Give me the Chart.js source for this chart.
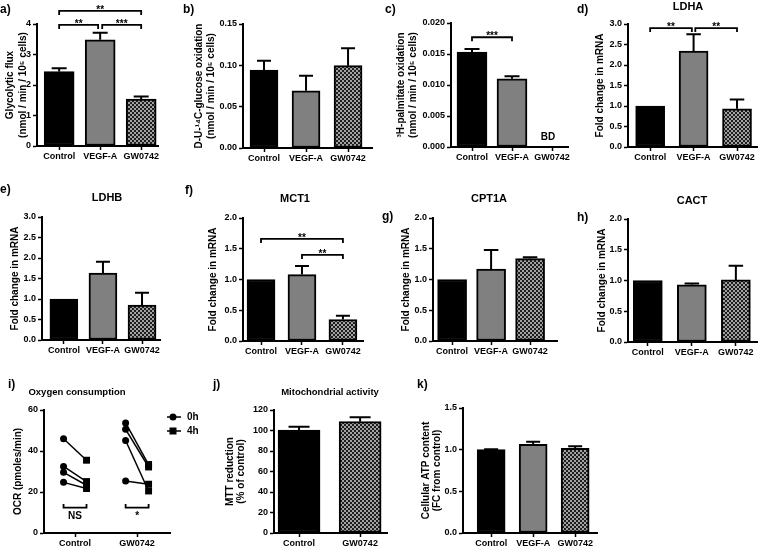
<!DOCTYPE html>
<html>
<head>
<meta charset="utf-8">
<script src="https://cdn.jsdelivr.net/npm/chart.js@4.4.1/dist/chart.umd.min.js"></script>
<style>
  html, body { margin: 0; padding: 0; background: #fff; }
  #page { position: relative; width: 758px; height: 548px; overflow: hidden; background: #fff; }
  #page canvas { position: absolute; }
</style>
</head>
<body>
<div id="page"></div>
<script>
const groups3 = ['Control', 'VEGF-A', 'GW0742'];
const groups2 = ['Control', 'GW0742'];

// a) glycolytic flux
const glycoFlux = [2.44, 3.48, 1.54];
const glycoFluxErr = [0.11, 0.23, 0.08];
// b) glucose oxidation
const glucoseOx = [0.0944, 0.0693, 0.0996];
const glucoseOxErr = [0.0112, 0.0182, 0.021];
// c) palmitate oxidation (GW0742 below detection)
const palmitateOx = [0.0153, 0.0110, null];
const palmitateOxErr = [0.0005, 0.0004, null];
const palmitateNotes = ['', '', 'BD'];
// d-h) mRNA fold change
const ldha = [1.0, 2.34, 0.93];
const ldhaErr = [0, 0.41, 0.23];
const ldhb = [1.0, 1.63, 0.85];
const ldhbErr = [0, 0.28, 0.30];
const mct1 = [1.0, 1.08, 0.35];
const mct1Err = [0, 0.14, 0.06];
const cpt1a = [1.0, 1.17, 1.34];
const cpt1aErr = [0, 0.31, 0.02];
const cact = [1.0, 0.93, 1.01];
const cactErr = [0, 0.02, 0.23];
// i) oxygen consumption, paired 0h -> 4h
const ocrControl0h = [46.0, 32.5, 29.6, 24.7];
const ocrControl4h = [35.5, 25.1, 23.3, 21.7];
const ocrGW0h = [53.7, 50.6, 45.1, 25.4];
const ocrGW4h = [33.4, 32.2, 20.5, 23.8];
const ocrTimes = ['0h', '4h'];
const timeShift = 0.185;
// j) MTT
const mtt = [100.5, 108.6];
const mttErr = [3.2, 4.3];
// k) ATP
const atp = [1.0, 1.065, 1.015];
const atpErr = [0.005, 0.03, 0.025];

const page = document.getElementById('page');
const FONT = "'Liberation Sans', Arial, Helvetica, sans-serif";
Chart.defaults.font.family = FONT;
Chart.defaults.font.weight = 'bold';
Chart.defaults.color = '#000';

function checker() {
  const c = document.createElement('canvas');
  c.width = 4; c.height = 4;
  const g = c.getContext('2d');
  g.fillStyle = '#a2a2a2'; g.fillRect(0, 0, 4, 4);
  g.fillStyle = '#1e1e1e'; g.fillRect(0, 0, 2, 2); g.fillRect(2, 2, 2, 2);
  return g.createPattern(c, 'repeat');
}
const fills = { 'Control': '#000000', 'VEGF-A': '#808080', 'GW0742': checker() };

const panelOf = new Map();

// error bars, brackets, notes, legend and panel text
const decorations = {
  id: 'decorations',
  afterDraw(chart) {
    const p = panelOf.get(chart.canvas);
    if (!p) return;
    const { ctx } = chart;
    const x = chart.scales.x, y = chart.scales.y;
    ctx.save();
    ctx.fillStyle = '#000';
    ctx.strokeStyle = '#000';

    chart.data.datasets.forEach((ds, di) => {
      if (!ds.errors) return;
      chart.getDatasetMeta(di).data.forEach((bar, i) => {
        const v = p.values[i], e = ds.errors[i];
        if (v == null || !e) return;
        const top = y.getPixelForValue(v + e);
        const half = bar.width / 4;
        ctx.lineWidth = 2;
        ctx.beginPath();
        ctx.moveTo(bar.x, bar.y);
        ctx.lineTo(bar.x, top);
        ctx.moveTo(bar.x - half, top);
        ctx.lineTo(bar.x + half, top);
        ctx.stroke();
      });
      if (ds.notes) {
        ctx.font = 'bold 10px ' + FONT;
        ctx.textAlign = 'center';
        ctx.textBaseline = 'middle';
        ds.notes.forEach((n, i) => {
          if (n) ctx.fillText(n, x.getPixelForValue(i) - 4, chart.chartArea.bottom - 10);
        });
      }
    });

    (p.brackets || []).forEach(b => {
      const x1 = x.getPixelForValue(b.from), x2 = x.getPixelForValue(b.to);
      const yy = y.getPixelForValue(b.at);
      const leg = b.up ? -3.5 : 4;
      ctx.lineWidth = 1.8;
      ctx.beginPath();
      ctx.moveTo(x1, yy + leg);
      ctx.lineTo(x1, yy);
      ctx.lineTo(x2, yy);
      ctx.lineTo(x2, yy + leg);
      ctx.stroke();
      ctx.font = 'bold 10px ' + FONT;
      ctx.textAlign = 'center';
      if (b.up) {
        ctx.textBaseline = 'top';
        ctx.fillText(b.text, (x1 + x2) / 2, yy + 4);
      } else {
        ctx.textBaseline = 'alphabetic';
        ctx.fillText(b.text, (x1 + x2) / 2, yy + 2);
      }
    });

    if (p.legend) {
      const lg = p.legend;
      lg.labels.forEach((label, i) => {
        const ly = lg.y + i * lg.gap - p.box.y;
        const lx = lg.x - p.box.x;
        ctx.lineWidth = 1.5;
        ctx.beginPath();
        ctx.moveTo(lx, ly);
        ctx.lineTo(lx + 14, ly);
        ctx.stroke();
        if (lg.markers[i] === 'circle') {
          ctx.beginPath();
          ctx.arc(lx + 6, ly, 3.5, 0, Math.PI * 2);
          ctx.fill();
        } else {
          ctx.fillRect(lx + 6 - 3.5, ly - 3.5, 7, 7);
        }
        ctx.font = 'bold 10px ' + FONT;
        ctx.textAlign = 'left';
        ctx.textBaseline = 'middle';
        ctx.fillText(label, lx + 20, ly);
      });
    }

    (p.texts || []).forEach(t => {
      ctx.font = 'bold ' + t.size + 'px ' + FONT;
      ctx.textAlign = t.align || 'left';
      ctx.textBaseline = 'middle';
      ctx.fillText(t.text, t.x - p.box.x, t.y - p.box.y);
    });
    ctx.restore();
  }
};
Chart.register(decorations);

function makeCanvas(box) {
  const c = document.createElement('canvas');
  c.width = box.w; c.height = box.h;
  c.style.left = box.x + 'px'; c.style.top = box.y + 'px';
  c.style.width = box.w + 'px'; c.style.height = box.h + 'px';
  page.appendChild(c);
  return c;
}

function yAxis(p) {
  const size = 10;
  const lh = (p.titleGap || 12) / size;
  return {
    type: 'linear', min: 0, max: p.yMax,
    afterFit: s => { s.width = p.L - p.box.x; },
    ticks: {
      stepSize: p.step, padding: 2, color: '#000',
      font: { size: 9, weight: 'bold' },
      callback: v => Number(v).toFixed(p.dec)
    },
    grid: { drawOnChartArea: false, drawTicks: true, tickLength: 4, tickColor: '#000', tickWidth: 1.5 },
    border: { display: true, color: '#000', width: 2 },
    title: {
      display: true, text: p.yTitle, color: '#000',
      font: { size: size, weight: 'bold', lineHeight: lh },
      padding: { top: p.titleX - p.box.x - size * lh / 2, bottom: 0 }
    }
  };
}

function xAxis(p) {
  return {
    type: 'linear', min: p.xMin, max: p.xMax, offset: false,
    afterBuildTicks: s => { s.ticks = p.labels.map((_, i) => ({ value: i })); },
    afterFit: s => { s.height = p.box.y + p.box.h - p.B; },
    ticks: {
      autoSkip: false, maxRotation: 0, padding: 1, color: '#000',
      font: { size: 9, weight: 'bold' },
      callback: v => p.labels[v]
    },
    grid: { offset: false, drawOnChartArea: false, drawTicks: true, tickLength: 4, tickColor: '#000', tickWidth: 1.5 },
    border: { display: true, color: '#000', width: 2 }
  };
}

function baseOptions(p) {
  return {
    responsive: false, animation: false, devicePixelRatio: 1,
    layout: { padding: { top: p.T - p.box.y, right: p.box.x + p.box.w - p.R, left: 0, bottom: 0 } },
    scales: { x: xAxis(p), y: yAxis(p) },
    plugins: { legend: { display: false }, title: { display: false }, tooltip: { enabled: false } }
  };
}

function barPanel(p) {
  const canvas = makeCanvas(p.box);
  panelOf.set(canvas, p);
  return new Chart(canvas, {
    type: 'bar',
    data: {
      datasets: [{
        data: p.labels.map((_, i) => ({ x: i, y: p.values[i] })),
        errors: p.errors,
        notes: p.notes,
        backgroundColor: p.labels.map(l => fills[l]),
        borderColor: '#000', borderWidth: 2, borderSkipped: false,
        barThickness: p.barWidth
      }]
    },
    options: baseOptions(p)
  });
}

function ocrPanel(p) {
  const canvas = makeCanvas(p.box);
  panelOf.set(canvas, p);
  const datasets = [];
  [[ocrControl0h, ocrControl4h], [ocrGW0h, ocrGW4h]].forEach(([before, after], g) => {
    before.forEach((v, r) => datasets.push({
      data: [{ x: g - timeShift, y: v }, { x: g + timeShift, y: after[r] }],
      borderColor: '#000', borderWidth: 1.5, tension: 0, fill: false,
      pointStyle: ['circle', 'rect'], pointRadius: [3.5, 4.9],
      pointBackgroundColor: '#000', pointBorderColor: '#000', pointBorderWidth: 0
    }));
  });
  return new Chart(canvas, { type: 'line', data: { datasets }, options: baseOptions(p) });
}

const foldTitle = 'Fold change in mRNA';
const rateTitle = '(nmol / min / 10\u2075 cells)';

barPanel({
  box: { x: 0, y: 0, w: 172, h: 165 }, L: 37, T: 24, R: 158, B: 146,
  labels: groups3, values: glycoFlux, errors: glycoFluxErr,
  xMin: -0.54, xMax: 2.41, yMax: 4, step: 1, dec: 0, barWidth: 30,
  yTitle: ['Glycolytic flux', rateTitle], titleX: 10, titleGap: 13,
  brackets: [
    { from: 0, to: 0.95, at: 3.97, text: '**' },
    { from: 1.05, to: 2, at: 3.97, text: '***' },
    { from: 0, to: 2, at: 4.43, text: '**' }
  ],
  texts: [{ text: 'a)', x: 0, y: 10, size: 12 }]
});

barPanel({
  box: { x: 180, y: 0, w: 198, h: 165 }, L: 243, T: 24, R: 372, B: 148,
  labels: groups3, values: glucoseOx, errors: glucoseOxErr,
  xMin: -0.5, xMax: 2.57, yMax: 0.15, step: 0.05, dec: 2, barWidth: 28,
  yTitle: ['D-U-\u00b9\u2074C-glucose oxidation', rateTitle], titleX: 199, titleGap: 12,
  texts: [{ text: 'b)', x: 183, y: 10, size: 12 }]
});

barPanel({
  box: { x: 380, y: 0, w: 195, h: 165 }, L: 451, T: 23, R: 568, B: 147,
  labels: groups3, values: palmitateOx, errors: palmitateOxErr, notes: palmitateNotes,
  xMin: -0.525, xMax: 2.4, yMax: 0.02, step: 0.005, dec: 3, barWidth: 30,
  yTitle: ['\u00b3H-palmitate oxidation', rateTitle], titleX: 401, titleGap: 12,
  brackets: [{ from: 0, to: 1, at: 0.0177, text: '***' }],
  texts: [{ text: 'c)', x: 385, y: 10, size: 12 }]
});

barPanel({
  box: { x: 575, y: 0, w: 183, h: 165 }, L: 628, T: 24, R: 757, B: 147,
  labels: groups3, values: ldha, errors: ldhaErr,
  xMin: -0.51, xMax: 2.46, yMax: 3, step: 0.5, dec: 1, barWidth: 29,
  yTitle: foldTitle, titleX: 600,
  brackets: [
    { from: 0, to: 0.96, at: 2.9, text: '**' },
    { from: 1.04, to: 2, at: 2.9, text: '**' }
  ],
  texts: [{ text: 'd)', x: 577, y: 10, size: 12 }, { text: 'LDHA', x: 688, y: 7, size: 11, align: 'center' }]
});

barPanel({
  box: { x: 0, y: 180, w: 172, h: 180 }, L: 42, T: 217, R: 160, B: 340,
  labels: groups3, values: ldhb, errors: ldhbErr,
  xMin: -0.56, xMax: 2.46, yMax: 3, step: 0.5, dec: 1, barWidth: 28,
  yTitle: foldTitle, titleX: 15,
  texts: [{ text: 'e)', x: 0, y: 190, size: 12 }, { text: 'LDHB', x: 107, y: 198, size: 11, align: 'center' }]
});

barPanel({
  box: { x: 183, y: 180, w: 192, h: 180 }, L: 243, T: 218, R: 363, B: 341,
  labels: groups3, values: mct1, errors: mct1Err,
  xMin: -0.44, xMax: 2.49, yMax: 2, step: 0.5, dec: 1, barWidth: 28,
  yTitle: foldTitle, titleX: 213,
  brackets: [
    { from: 0, to: 2, at: 1.66, text: '**' },
    { from: 1, to: 2, at: 1.40, text: '**' }
  ],
  texts: [{ text: 'f)', x: 185, y: 191, size: 12 }, { text: 'MCT1', x: 295, y: 199, size: 11, align: 'center' }]
});

barPanel({
  box: { x: 378, y: 180, w: 192, h: 180 }, L: 433, T: 218, R: 557, B: 341,
  labels: groups3, values: cpt1a, errors: cpt1aErr,
  xMin: -0.49, xMax: 2.69, yMax: 2, step: 0.5, dec: 1, barWidth: 29,
  yTitle: foldTitle, titleX: 406,
  texts: [{ text: 'g)', x: 382, y: 217, size: 12 }, { text: 'CPT1A', x: 489, y: 199, size: 11, align: 'center' }]
});

barPanel({
  box: { x: 573, y: 180, w: 185, h: 180 }, L: 628, T: 219, R: 757, B: 342,
  labels: groups3, values: cact, errors: cactErr,
  xMin: -0.45, xMax: 2.48, yMax: 2, step: 0.5, dec: 1, barWidth: 29,
  yTitle: foldTitle, titleX: 602,
  texts: [{ text: 'h)', x: 577, y: 218, size: 12 }, { text: 'CACT', x: 692, y: 201, size: 11, align: 'center' }]
});

ocrPanel({
  box: { x: 0, y: 372, w: 215, h: 176 }, L: 44, T: 410, R: 170, B: 533,
  labels: groups2, values: [],
  xMin: -0.5, xMax: 1.53, yMax: 60, step: 20, dec: 0,
  yTitle: 'OCR (pmoles/min)', titleX: 18,
  brackets: [
    { from: -timeShift, to: timeShift, at: 12.4, text: 'NS', up: true },
    { from: 1 - timeShift, to: 1 + timeShift, at: 12.4, text: '*', up: true }
  ],
  legend: { x: 167, y: 417, gap: 14, labels: ocrTimes, markers: ['circle', 'rect'] },
  texts: [{ text: 'i)', x: 8, y: 385, size: 12 }, { text: 'Oxygen consumption', x: 77, y: 392, size: 9.5, align: 'center' }]
});

barPanel({
  box: { x: 208, y: 372, w: 195, h: 176 }, L: 274, T: 410, R: 387, B: 533,
  labels: groups2, values: mtt, errors: mttErr,
  xMin: -0.41, xMax: 1.44, yMax: 120, step: 20, dec: 0, barWidth: 42,
  yTitle: ['MTT reduction', '(% of control)'], titleX: 230, titleGap: 11.5,
  texts: [{ text: 'j)', x: 213, y: 385, size: 12 }, { text: 'Mitochondrial activity', x: 330, y: 392, size: 9.5, align: 'center' }]
});

barPanel({
  box: { x: 412, y: 372, w: 200, h: 176 }, L: 463, T: 408, R: 597, B: 533,
  labels: groups3, values: atp, errors: atpErr,
  xMin: -0.67, xMax: 2.52, yMax: 1.5, step: 0.5, dec: 1, barWidth: 28,
  yTitle: ['Cellular ATP content', '(FC from control)'], titleX: 426, titleGap: 11.5,
  texts: [{ text: 'k)', x: 417, y: 385, size: 12 }]
});
</script>
</body>
</html>
